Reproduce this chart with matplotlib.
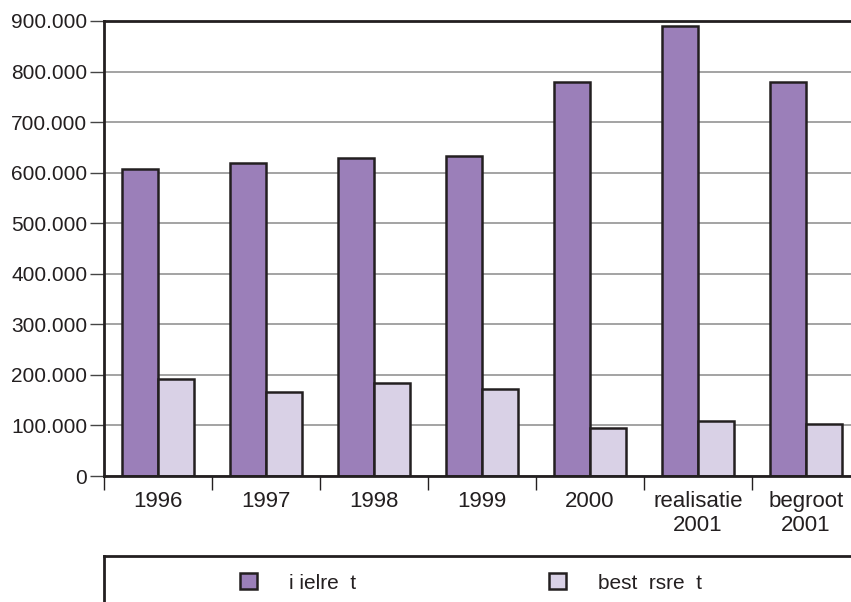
import matplotlib
matplotlib.use("Agg")
import matplotlib.pyplot as plt
from matplotlib.ticker import FuncFormatter, FixedLocator

plt.rcParams['font.family'] = ['Liberation Sans', 'DejaVu Sans']

categories = ["1996", "1997", "1998", "1999", "2000", "realisatie\n2001", "begroot\n2001"]
series_a_name = "i ielre  t"
series_b_name = "best  rsre  t"
series_a = [608000, 620000, 629000, 633000, 779000, 891000, 779000]
series_b = [191000, 166000, 184000, 172000, 95000, 109000, 103000]
yticks = [0, 100000, 200000, 300000, 400000, 500000, 600000, 700000, 800000, 900000]

col_a = "#9b7fb9"
col_b = "#d9d1e6"
edge = "#231f20"

W, H = 851, 602
fig = plt.figure(figsize=(W / 100, H / 100), dpi=100)
left, right, top, bottom = 104, 860, 21, 476
ax = fig.add_axes([left / W, 1 - bottom / H, (right - left) / W, (bottom - top) / H])

n = len(categories)
xs = list(range(n))
bw = 1 / 3
ba = ax.bar([x - bw / 2 for x in xs], series_a, width=bw, color=col_a, edgecolor=edge,
            linewidth=1.8, label=series_a_name, zorder=3)
bb = ax.bar([x + bw / 2 for x in xs], series_b, width=bw, color=col_b, edgecolor=edge,
            linewidth=1.8, label=series_b_name, zorder=3)

ax.set_xlim(-0.5, n - 0.5)
ax.set_ylim(0, 900000)
ax.set_yticks(yticks)
ax.yaxis.set_major_formatter(FuncFormatter(lambda v, p: f"{int(v):,}".replace(",", ".")))
ax.grid(axis='y', color='#8a8a8a', linewidth=1.1, zorder=0)
ax.set_axisbelow(True)

ax.set_xticks(xs)
ax.set_xticklabels(categories, linespacing=1.2)
ax.xaxis.set_minor_locator(FixedLocator([x - 0.5 for x in xs] + [n - 0.5]))
ax.tick_params(axis='x', which='major', length=0, pad=11, labelsize=16, colors='#231f20')
ax.tick_params(axis='x', which='minor', length=10, width=1.0, color='#231f20', direction='out')
ax.tick_params(axis='y', length=10, width=1.0, color='#444444', pad=2, labelsize=15,
               labelcolor='#231f20')

for s in ['left', 'top', 'bottom']:
    ax.spines[s].set_color(edge)
    ax.spines[s].set_linewidth(2.0)
    ax.spines[s].set_zorder(4)
ax.spines['right'].set_visible(False)

# legend box
lb_top, lb_bot = 556, 620
lax = fig.add_axes([left / W, 1 - lb_bot / H, 770 / W, (lb_bot - lb_top) / H])
lax.set_xticks([])
lax.set_yticks([])
lax.patch.set_visible(False)
for s in ['left', 'top']:
    lax.spines[s].set_color(edge)
    lax.spines[s].set_linewidth(2.0)
for s in ['right', 'bottom']:
    lax.spines[s].set_visible(False)
lax.legend(handles=[ba, bb], loc='center', bbox_to_anchor=((471 - left) / 770, 0.58), ncol=2,
           frameon=False, fontsize=15, handlelength=0.82, handleheight=0.82,
           handletextpad=1.54, columnspacing=9.25, labelcolor='#231f20')

fig.savefig("out.png", dpi=100)
